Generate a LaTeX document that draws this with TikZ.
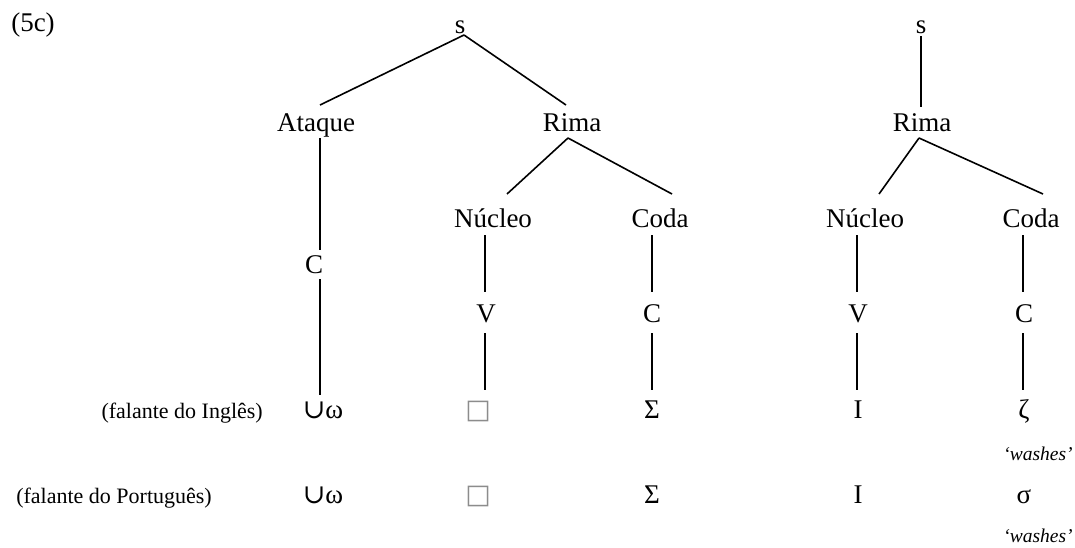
\documentclass[tikz,border=0pt]{standalone}
\usepackage{fontspec}
\setmainfont{Liberation Serif}
\newfontfamily\djs{DejaVu Sans}
\newfontfamily\djserif{DejaVu Serif}
\begin{document}
\begin{tikzpicture}[x=1pt,y=-1pt,
  t/.style={font=\fontsize{27}{30}\selectfont, inner sep=0pt, anchor=base},
  sm/.style={font=\fontsize{22}{26}\selectfont, inner sep=0pt, anchor=base east},
  gl/.style={font=\fontsize{19.5}{22}\selectfont\itshape, inner sep=0pt, anchor=base},
  ln/.style={line width=1.6pt}]
\useasboundingbox (0,0) rectangle (1075,547);
% labels
\node[t] (ex) at (33,31) {(5c)};
% left tree
\node[t] (s1) at (460,33) {s};
\node[t] (ata) at (316,131) {Ataque};
\node[t] (rima1) at (572,131) {Rima};
\node[t] (nuc1) at (493,227) {Núcleo};
\node[t] (coda1) at (660,227) {Coda};
\node[t] (c0) at (314,273) {C};
\node[t] (v1) at (486,322) {V};
\node[t] (c1) at (652,322) {C};
% right tree
\node[t] (s2) at (921,33) {s};
\node[t] (rima2) at (922,131) {Rima};
\node[t] (nuc2) at (865,227) {Núcleo};
\node[t] (coda2) at (1031,227) {Coda};
\node[t] (v2) at (858,322) {V};
\node[t] (c2) at (1024,322) {C};
% row 1
\node[sm] (ing) at (263,418) {(falante do Inglês)};
\node[t] (cw1) at (323,418) {{\djserif ∪}ω};
\node[t] (box1) at (478,418) {{\color{black!45}\djs □}};
\node[t] (sig1) at (652,418) {Σ};
\node[t] (i1) at (858,418) {I};
\node[t] (zeta) at (1024,418) {ζ};
\node[gl] (wash1) at (1038,460) {‘washes’};
% row 2
\node[sm] (por) at (212,503) {(falante do Português)};
\node[t] (cw2) at (323,503) {{\djserif ∪}ω};
\node[t] (box2) at (478,503) {{\color{black!45}\djs □}};
\node[t] (sig2) at (652,503) {Σ};
\node[t] (i2) at (858,503) {I};
\node[t] (sigma) at (1024,503) {σ};
\node[gl] (wash2) at (1038,542) {‘washes’};
% connectors left tree
\draw[ln] ([shift={(4,2)}]s1.base) -- ([shift={(4,-26)}]ata.base);
\draw[ln] ([shift={(4,2)}]s1.base) -- ([shift={(-6,-26)}]rima1.base);
\draw[ln] ([shift={(4,7)}]ata.base) -- ([shift={(6,-23)}]c0.base);
\draw[ln] ([shift={(6,6)}]c0.base) -- ([shift={(-3,-23)}]cw1.base);
\draw[ln] ([shift={(-4,7)}]rima1.base) -- ([shift={(14,-33)}]nuc1.base);
\draw[ln] ([shift={(-4,7)}]rima1.base) -- ([shift={(12,-33)}]coda1.base);
\draw[ln] ([shift={(-8,8)}]nuc1.base) -- ([shift={(-1,-30)}]v1.base);
\draw[ln] ([shift={(-8,8)}]coda1.base) -- ([shift={(0,-30)}]c1.base);
\draw[ln] ([shift={(-1,11)}]v1.base) -- ([shift={(7,-28)}]box1.base);
\draw[ln] ([shift={(0,11)}]c1.base) -- ([shift={(0,-28)}]sig1.base);
% connectors right tree
\draw[ln] ([shift={(0,3)}]s2.base) -- ([shift={(-1,-24)}]rima2.base);
\draw[ln] ([shift={(-3,7)}]rima2.base) -- ([shift={(14,-33)}]nuc2.base);
\draw[ln] ([shift={(-3,7)}]rima2.base) -- ([shift={(12,-33)}]coda2.base);
\draw[ln] ([shift={(-8,8)}]nuc2.base) -- ([shift={(-1,-30)}]v2.base);
\draw[ln] ([shift={(-8,8)}]coda2.base) -- ([shift={(-1,-30)}]c2.base);
\draw[ln] ([shift={(-1,11)}]v2.base) -- ([shift={(-1,-28)}]i1.base);
\draw[ln] ([shift={(-1,11)}]c2.base) -- ([shift={(-1,-28)}]zeta.base);
\end{tikzpicture}
\end{document}
